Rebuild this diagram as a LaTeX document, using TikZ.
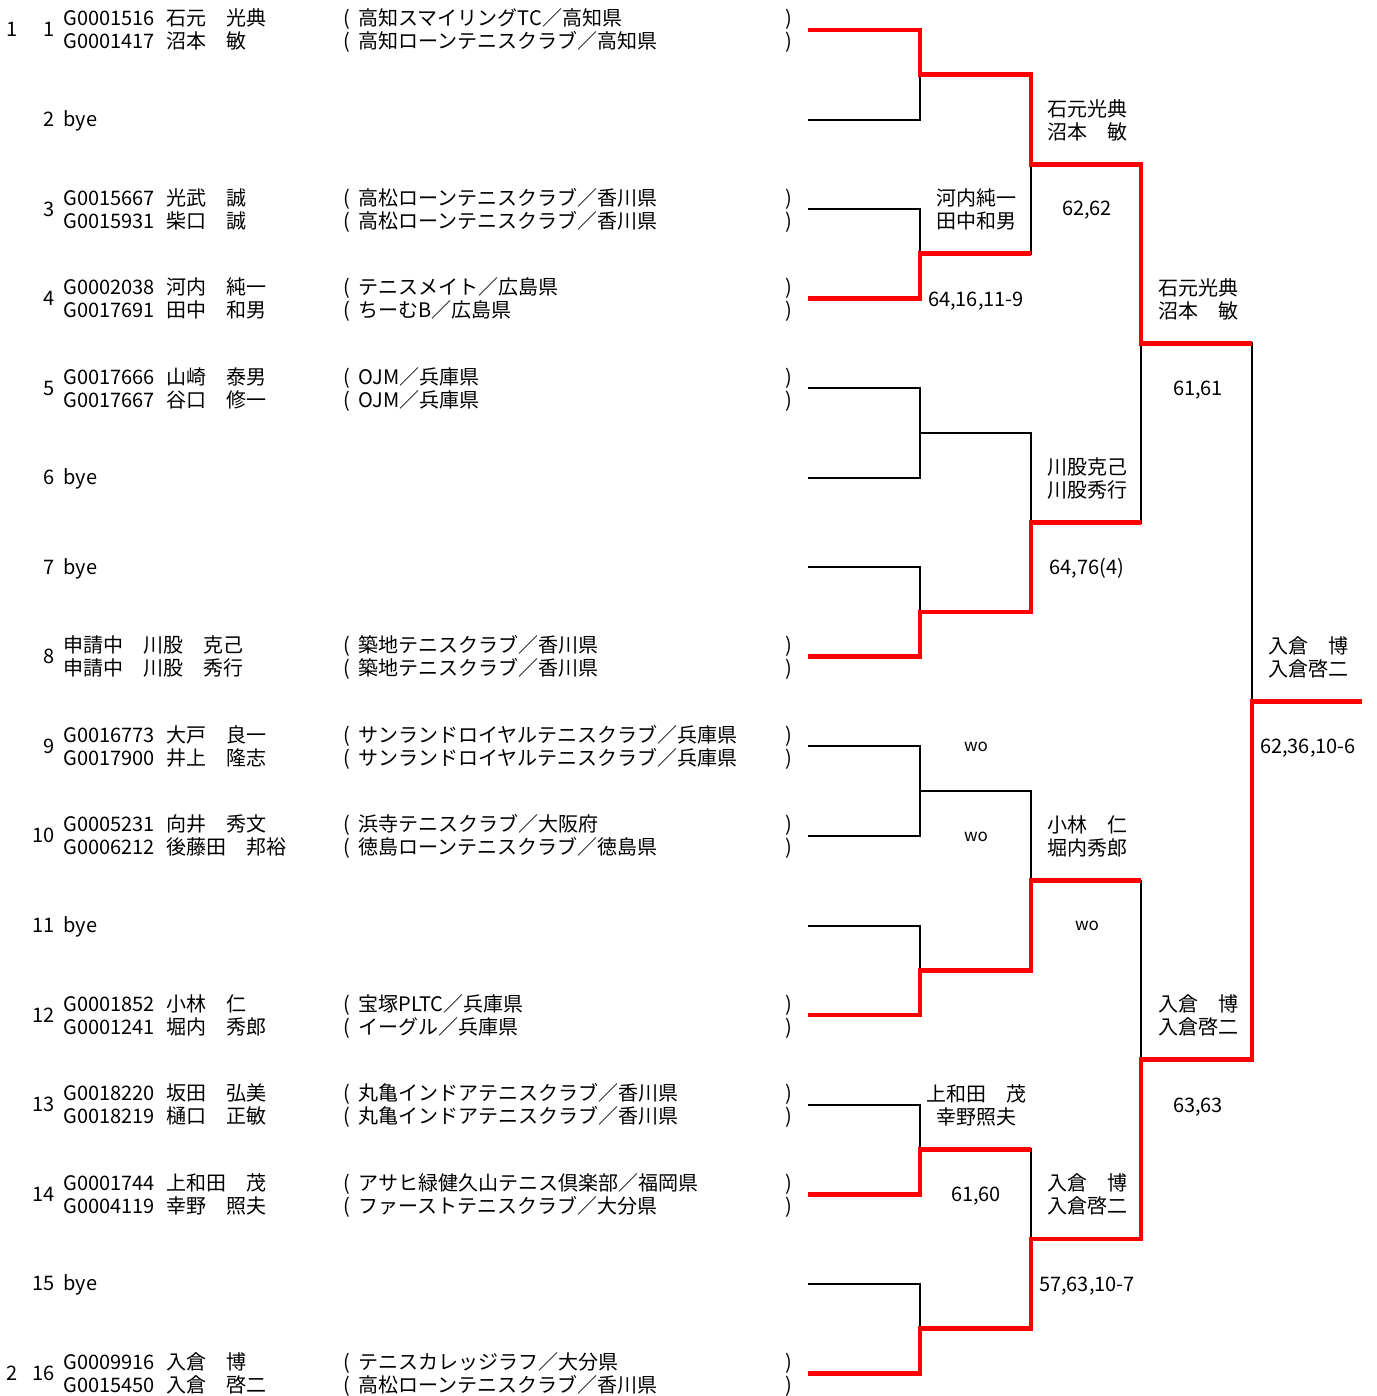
\documentclass[tikz,border=0pt]{standalone}
\usepackage{fontspec}
\setmainfont{Noto Sans CJK JP}
\usetikzlibrary{calc}

\begin{document}
\begin{tikzpicture}[x=0.5pt,y=-0.5pt,
        txt/.style={font=\fontsize{10}{11.5}\selectfont,inner sep=0pt,anchor=base west},
        num/.style={font=\fontsize{10}{11.5}\selectfont,inner sep=0pt,anchor=base east},
        lbl/.style={font=\fontsize{10}{11.5}\selectfont,inner sep=0pt,align=center},
        score/.style={font=\fontsize{10}{11.5}\selectfont,inner sep=0pt,anchor=base},
        wo/.style={font=\fontsize{8.5}{10}\selectfont,inner sep=0pt},
        lose/.style={line width=1pt,black},
        win/.style={line width=2.4pt,red}]
        \useasboundingbox (0,0) rectangle (1376,1396);
        % bracket points
        \foreach \i in {1,...,16}{
            \coordinate (e\i) at (808,{30+(\i-1)*89.55});
        }
        \foreach \k in {1,...,8}{
            \coordinate (a\k) at (920,{30+(2*\k-1.5)*89.55});
        }
        \foreach \j in {1,...,4}{
            \coordinate (b\j) at (1031,{30+(4*\j-2.5)*89.55});
        }
        \coordinate (c1) at (1141,{30+3.5*89.55});
        \coordinate (c2) at (1141,{30+11.5*89.55});
        \coordinate (d) at (1252,{30+7.5*89.55});
        \coordinate (f) at (1362,{30+7.5*89.55});
        % black tree
        \foreach \i [evaluate=\i as \k using {int((\i+1)/2)}] in {1,...,16}{
            \draw[lose] (e\i) -| (a\k);
        }
        \foreach \k [evaluate=\k as \j using {int((\k+1)/2)}] in {1,...,8}{
            \draw[lose] (a\k) -| (b\j);
        }
        \foreach \j [evaluate=\j as \l using {int((\j+1)/2)}] in {1,...,4}{
            \draw[lose] (b\j) -| (c\l);
        }
        \draw[lose] (c1) -| (d);
        \draw[lose] (c2) -| (d);
        \draw[lose] (d) -- (f);
        % winners
        \draw[win] (e1) -| (a1) -| (b1) -| (c1) -- (c1 -| d);
        \draw[win] (e4) -| (a2) -- (a2 -| b1);
        \draw[win] (e8) -| (a4) -| (b2) -- (b2 -| c1);
        \draw[win] (e12) -| (a6) -| (b3) -- (b3 -| c2);
        \draw[win] (e14) -| (a7) -- (a7 -| b4);
        \draw[win] (e16) -| (a8) -| (b4) -| (c2) -| (d) -- (f);
        % entries
        \foreach \n/\ida/\nma/\cla/\idb/\nmb/\clb in {
            1/G0001516/石元　光典/高知スマイリングTC／高知県/G0001417/沼本　敏/高知ローンテニスクラブ／高知県,
            3/G0015667/光武　誠/高松ローンテニスクラブ／香川県/G0015931/柴口　誠/高松ローンテニスクラブ／香川県,
            4/G0002038/河内　純一/テニスメイト／広島県/G0017691/田中　和男/ちーむB／広島県,
            5/G0017666/山崎　泰男/OJM／兵庫県/G0017667/谷口　修一/OJM／兵庫県,
            9/G0016773/大戸　良一/サンランドロイヤルテニスクラブ／兵庫県/G0017900/井上　隆志/サンランドロイヤルテニスクラブ／兵庫県,
            10/G0005231/向井　秀文/浜寺テニスクラブ／大阪府/G0006212/後藤田　邦裕/徳島ローンテニスクラブ／徳島県,
            12/G0001852/小林　仁/宝塚PLTC／兵庫県/G0001241/堀内　秀郎/イーグル／兵庫県,
            13/G0018220/坂田　弘美/丸亀インドアテニスクラブ／香川県/G0018219/樋口　正敏/丸亀インドアテニスクラブ／香川県,
            14/G0001744/上和田　茂/アサヒ緑健久山テニス倶楽部／福岡県/G0004119/幸野　照夫/ファーストテニスクラブ／大分県,
            16/G0009916/入倉　博/テニスカレッジラフ／大分県/G0015450/入倉　啓二/高松ローンテニスクラブ／香川県}{
            \pgfmathsetmacro\y{30+(\n-1)*89.55}
            \node[num] (n\n) at (55,\y+7) {\n};
            \node[txt] (ida\n) at (63,\y-4) {\ida};
            \node[txt] (nma\n) at (166,\y-4) {\nma};
            \node[txt] (opa\n) at (343,\y-4) {(};
            \node[txt] (cla\n) at (358,\y-4) {\cla};
            \node[txt] (cpa\n) at (785,\y-4) {)};
            \node[txt] (idb\n) at (63,\y+19) {\idb};
            \node[txt] (nmb\n) at (166,\y+19) {\nmb};
            \node[txt] (opb\n) at (343,\y+19) {(};
            \node[txt] (clb\n) at (358,\y+19) {\clb};
            \node[txt] (cpb\n) at (785,\y+19) {)};
        }
        \pgfmathsetmacro\y{30+7*89.55}
        \node[num] (n8) at (55,\y+7) {8};
        \node[txt] (ida8) at (63,\y-4) {申請中　川股　克己};
        \node[txt] (opa8) at (343,\y-4) {(};
        \node[txt] (cla8) at (358,\y-4) {築地テニスクラブ／香川県};
        \node[txt] (cpa8) at (785,\y-4) {)};
        \node[txt] (idb8) at (63,\y+19) {申請中　川股　秀行};
        \node[txt] (opb8) at (343,\y+19) {(};
        \node[txt] (clb8) at (358,\y+19) {築地テニスクラブ／香川県};
        \node[txt] (cpb8) at (785,\y+19) {)};
        \foreach \n in {2,6,7,11,15}{
            \pgfmathsetmacro\y{30+(\n-1)*89.55}
            \node[num] (n\n) at (55,\y+7) {\n};
            \node[txt] (bye\n) at (63,\y+7) {bye};
        }
        \node[num] (seed1) at (18,37) {1};
        \node[num] (seed2) at (18,1380) {2};
        % results
        \node[lbl] (w1a) at (976,209) {河内純一\\田中和男};
        \node[score] (s1a) at (976,306) {64,16,11-9};
        \node[wo] (w1b) at (976,747) {wo};
        \node[wo] (s1b) at (976,837) {wo};
        \node[lbl] (w1c) at (976,1105) {上和田　茂\\幸野照夫};
        \node[score] (s1c) at (976,1201) {61,60};
        \node[lbl] (w2a) at (1087,120) {石元光典\\沼本　敏};
        \node[score] (s2a) at (1087,216) {62,62};
        \node[lbl] (w2b) at (1087,478) {川股克己\\川股秀行};
        \node[score] (s2b) at (1087,574) {64,76(4)};
        \node[lbl] (w2c) at (1087,836) {小林　仁\\堀内秀郎};
        \node[wo] (s2c) at (1087,926) {wo};
        \node[lbl] (w2d) at (1087,1194) {入倉　博\\入倉啓二};
        \node[score] (s2d) at (1087,1291) {57,63,10-7};
        \node[lbl] (w3a) at (1198,299) {石元光典\\沼本　敏};
        \node[score] (s3a) at (1198,395) {61,61};
        \node[lbl] (w3b) at (1198,1015) {入倉　博\\入倉啓二};
        \node[score] (s3b) at (1198,1112) {63,63};
        \node[lbl] (w4) at (1308,657) {入倉　博\\入倉啓二};
        \node[score] (s4) at (1308,753) {62,36,10-6};
\end{tikzpicture}
\end{document}
